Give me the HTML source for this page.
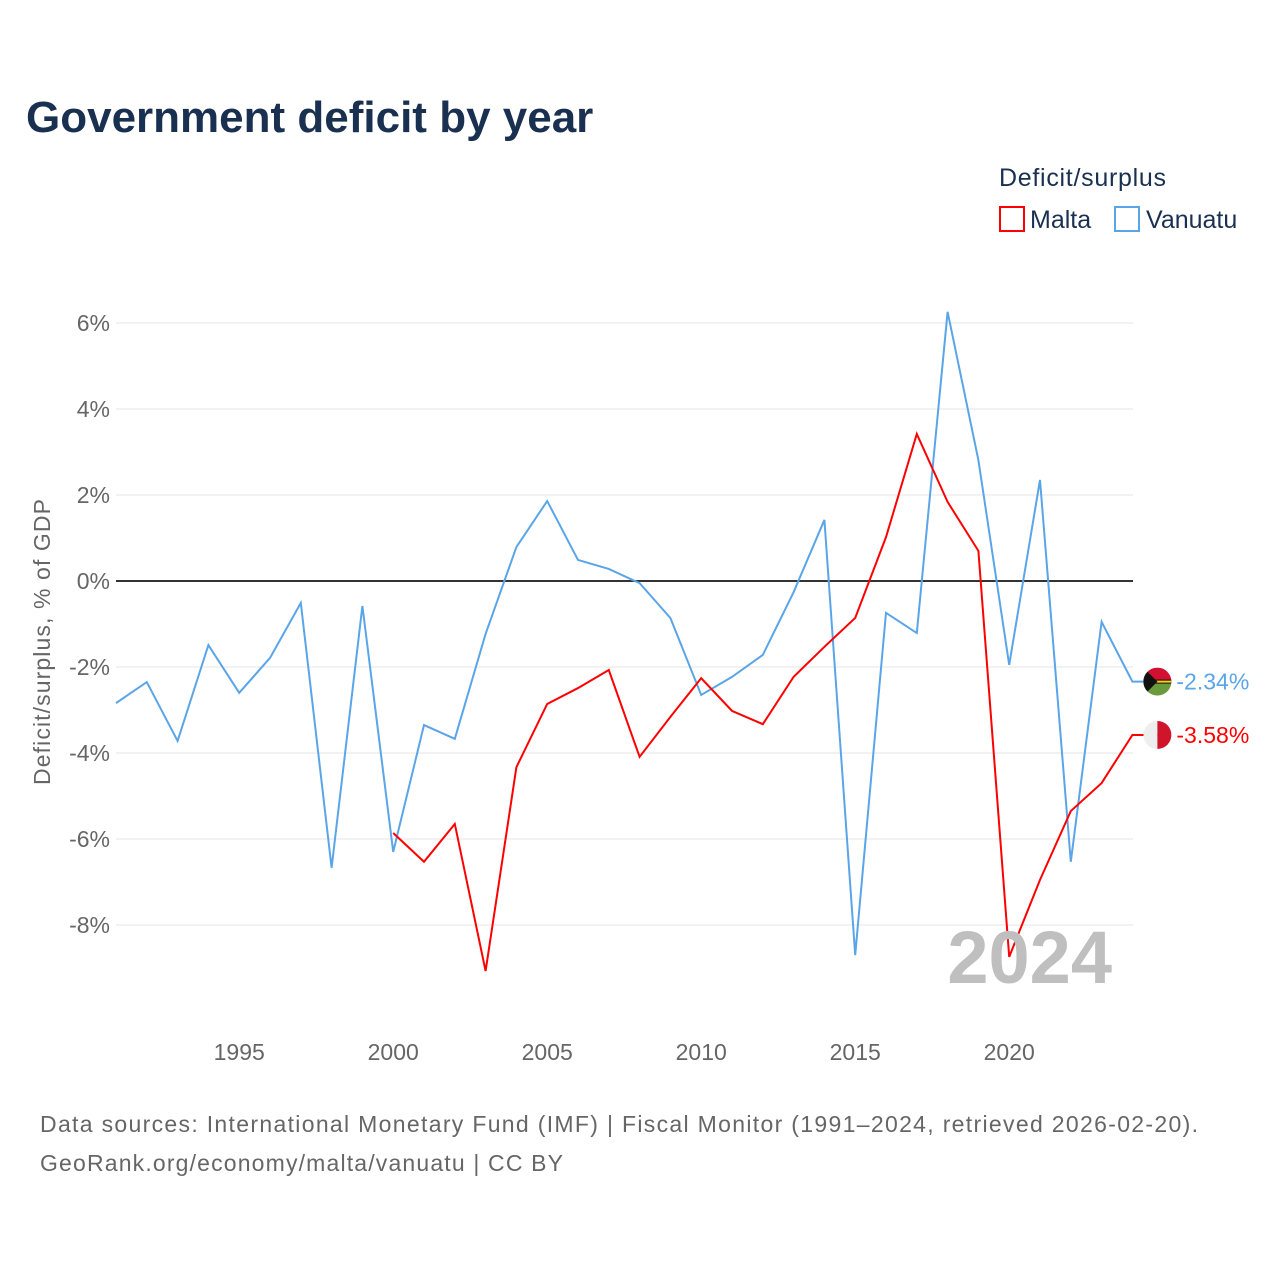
<!DOCTYPE html>
<html><head><meta charset="utf-8"><style>
body{margin:0;background:#fff;font-family:"Liberation Sans",sans-serif}
svg text{font-family:"Liberation Sans",sans-serif}
</style></head><body>
<svg id="chart" width="1280" height="1280" viewBox="0 0 1280 1280" xmlns="http://www.w3.org/2000/svg">
<rect width="1280" height="1280" fill="#fff"/>
<text x="26" y="132" font-size="44" font-weight="bold" fill="#1a3050">Government deficit by year</text>
<text x="999" y="186" font-size="25" fill="#1a3050" textLength="167">Deficit/surplus</text>
<g><rect x="1000" y="207" width="24" height="24" fill="none" stroke="#f00" stroke-width="2"/><text x="1030" y="228" font-size="25" fill="#1a3050">Malta</text></g>
<g><rect x="1115" y="207" width="24" height="24" fill="none" stroke="#5aa5e8" stroke-width="2"/><text x="1146" y="228" font-size="25" fill="#1a3050">Vanuatu</text></g>
<text transform="translate(50,642) rotate(-90)" text-anchor="middle" font-size="23" fill="#666" textLength="286">Deficit/surplus, % of GDP</text>
<g id="grid"></g><g id="lines"></g>
<text x="1112" y="983" text-anchor="end" font-size="74" font-weight="bold" fill="#bfbfbf">2024</text>
<text x="40" y="1132" font-size="23" fill="#666" textLength="1158">Data sources: International Monetary Fund (IMF) | Fiscal Monitor (1991–2024, retrieved 2026-02-20).</text>
<text x="40" y="1171" font-size="23" fill="#666" textLength="523">GeoRank.org/economy/malta/vanuatu | CC BY</text>
</svg>
<script>
const yTicks=[6,4,2,0,-2,-4,-6,-8];
const xTicks=[1995,2000,2005,2010,2015,2020];
const vanYears=[1991,1992,1993,1994,1995,1996,1997,1998,1999,2000,2001,2002,2003,2004,2005,2006,2007,2008,2009,2010,2011,2012,2013,2014,2015,2016,2017,2018,2019,2020,2021,2022,2023,2024];
const vanuatu=[-2.84,-2.35,-3.72,-1.49,-2.6,-1.79,-0.51,-6.67,-0.58,-6.3,-3.35,-3.67,-1.23,0.79,1.86,0.49,0.28,-0.05,-0.86,-2.65,-2.23,-1.72,-0.26,1.42,-8.7,-0.74,-1.21,6.26,2.81,-1.95,2.35,-6.53,-0.95,-2.34];
const maltaYears=[2000,2001,2002,2003,2004,2005,2006,2007,2008,2009,2010,2011,2012,2013,2014,2015,2016,2017,2018,2019,2020,2021,2022,2023,2024];
const malta=[-5.86,-6.53,-5.65,-9.07,-4.33,-2.86,-2.49,-2.07,-4.09,-3.16,-2.26,-3.02,-3.33,-2.23,-1.53,-0.86,1.02,3.42,1.84,0.70,-8.74,-6.95,-5.35,-4.7,-3.58];
const NS="http://www.w3.org/2000/svg";
const X=y=>116+(y-1991)*30.8;
const Y=v=>581-v*43;
const grid=document.getElementById('grid'),lines=document.getElementById('lines');
function mk(tag,at,parent){const e=document.createElementNS(NS,tag);for(const k in at)e.setAttribute(k,at[k]);parent.appendChild(e);return e;}
yTicks.forEach(t=>{
 const l=mk('line',{x1:116,x2:1133,y1:Y(t),y2:Y(t),stroke:t===0?'#333':'#e6e6e6','stroke-width':t===0?2:1},grid);
 
 
 const tx=mk('text',{x:110,y:Y(t)+8,'text-anchor':'end','font-size':23,fill:'#666'},grid);
 tx.textContent=t+'%';
 
 
});
xTicks.forEach(t=>{
 const tx=mk('text',{x:X(t),y:1060,'text-anchor':'middle','font-size':23,fill:'#666'},grid);
 tx.textContent=t;
 
 
});
function series(years,vals,color,name){
 const d=years.map((y,i)=>(i?'L':'M')+X(y)+','+Y(vals[i])).join(' ')+' h25';
 const p=mk('path',{d:d,fill:'none',stroke:color,'stroke-width':2},lines);
 
 
 const last=vals[vals.length-1];
 const cx=X(years[years.length-1])+25, cy=Y(last);
 const g=mk('g',{},lines);
 
 
 const cp='clip-'+name;
 const cl=mk('clipPath',{id:cp},g);
 mk('circle',{cx:cx,cy:cy,r:14},cl);
 const gg=mk('g',{'clip-path':'url(#'+cp+')'},g);
 if(name==='vanuatu'){
  mk('rect',{x:cx-14,y:cy-14,width:28,height:14,fill:'#d21034'},gg);
  mk('rect',{x:cx-14,y:cy,width:28,height:14,fill:'#6b9a3c'},gg);
  mk('rect',{x:cx-14,y:cy-2,width:28,height:4,fill:'#111'},gg);
  mk('rect',{x:cx-14,y:cy-1,width:28,height:2,fill:'#fdce12'},gg);
  mk('path',{d:`M${cx-14},${cy-14} L${cx},${cy} L${cx-14},${cy+14}Z`,fill:'#111'},gg);
 } else {
  mk('rect',{x:cx-14,y:cy-14,width:14,height:28,fill:'#eee'},gg);
  mk('rect',{x:cx,y:cy-14,width:14,height:28,fill:'#cf142b'},gg);
 }
 const t=mk('text',{x:cx+19,y:cy+8,'font-size':23,fill:color},lines);
 t.textContent=last.toFixed(2)+'%';
 
 
}
series(vanYears,vanuatu,'#5aa5e8','vanuatu');
series(maltaYears,malta,'#f00','malta');
</script>
</body></html>
